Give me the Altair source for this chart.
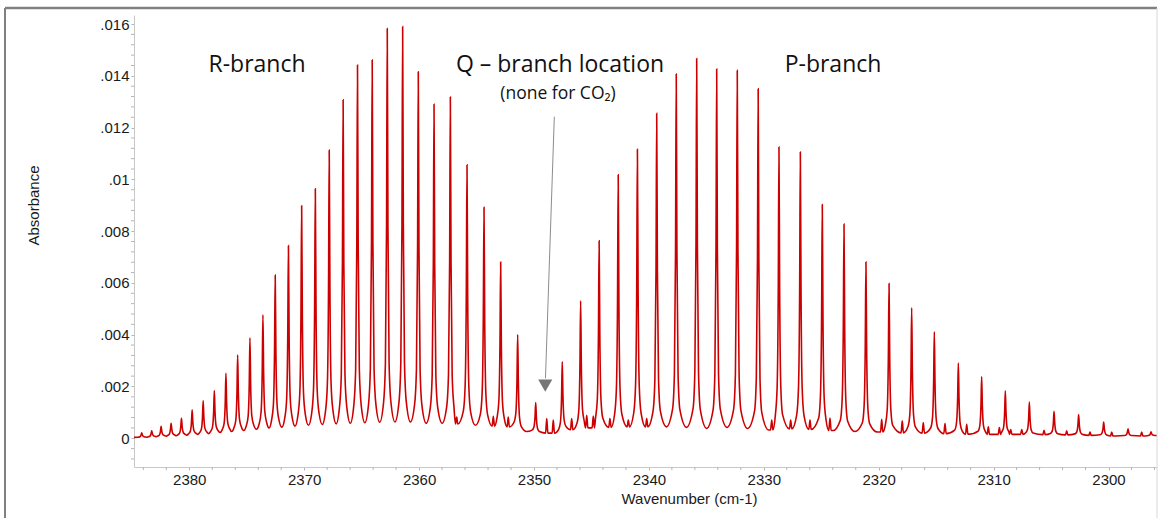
import altair as alt
import pandas as pd

# ---- strong rotational lines (high -> low wavenumber) ----
peak_wn = [2384.14, 2383.27, 2382.45, 2381.58, 2380.68, 2379.75, 2378.79, 2377.82, 2376.81, 2375.79,
           2374.72, 2373.59, 2372.52, 2371.37, 2370.22, 2369.03, 2367.82, 2366.61, 2365.36, 2364.08,
           2362.77, 2361.43, 2360.07, 2358.70, 2357.28, 2355.83, 2354.35, 2352.90, 2351.42, 2349.85,
           2347.54, 2345.94, 2344.33, 2342.67, 2341.00, 2339.32, 2337.62, 2335.84, 2334.10, 2332.31,
           2330.49, 2328.68, 2326.82, 2324.91, 2323.02, 2321.11, 2319.10, 2317.13, 2315.16, 2313.07,
           2311.04, 2308.98, 2306.89, 2304.74, 2302.60, 2300.42, 2298.30, 2296.30]
peak_abs = [0.00021, 0.00029, 0.00046, 0.00058, 0.00077, 0.0011, 0.00146, 0.00184, 0.00251, 0.00321,
            0.00388, 0.00477, 0.0063, 0.00744, 0.00898, 0.00964, 0.01113, 0.01307, 0.01442, 0.01461,
            0.01583, 0.0159, 0.01416, 0.0129, 0.01318, 0.01056, 0.00892, 0.00681, 0.00401, 0.00138,
            0.00295, 0.00531, 0.00763, 0.01018, 0.01116, 0.01255, 0.01407, 0.01467, 0.01426, 0.01421,
            0.0135, 0.01125, 0.01106, 0.00903, 0.00827, 0.00681, 0.00598, 0.00504, 0.00411, 0.00291,
            0.00237, 0.00183, 0.0014, 0.00104, 0.00092, 0.00063, 0.00037, 0.00025]
# absorbance at the minima: before the first line, between each pair, after the last line
valley_abs = [0.00003,
              0.00004, 0.00006, 0.00008, 0.0001, 0.00012, 0.00015, 0.00018, 0.00022, 0.00026, 0.0003,
              0.00035, 0.0004, 0.00043, 0.00047, 0.0005, 0.00053, 0.00056, 0.00058, 0.0006, 0.00062,
              0.00063, 0.00063, 0.00058, 0.00058, 0.00055, 0.0005, 0.00047, 0.00044, 0.00026,
              0.0002,
              0.00033, 0.0004, 0.00042, 0.00044, 0.00044, 0.00044, 0.00042, 0.00038, 0.00042, 0.00038,
              0.00032, 0.00036, 0.00034, 0.0003, 0.00026, 0.00024, 0.00021, 0.0002, 0.00018, 0.00016,
              0.00015, 0.00015, 0.00014, 0.00013, 0.00011, 0.00009, 0.00009,
              0.0001]
# weak (hot-band) lines between the strong ones
weak_wn = [2356.73, 2353.54, 2352.24, 2348.89, 2348.32, 2346.72, 2345.41, 2344.84, 2343.39, 2341.79,
           2340.19, 2329.31, 2327.66, 2325.98, 2324.24, 2319.74, 2317.95, 2316.12, 2314.23, 2312.34,
           2310.46, 2309.50, 2308.51, 2307.55, 2305.61, 2303.64, 2301.61, 2299.72, 2297.11]
weak_abs = [0.00082, 0.00085, 0.00082, 0.00076, 0.0007, 0.00076, 0.00089, 0.00086, 0.00076, 0.0007,
            0.00076, 0.0007, 0.0007, 0.0007, 0.00078, 0.00073, 0.00067, 0.00061, 0.00057, 0.00054,
            0.00044, 0.00041, 0.00034, 0.00034, 0.00031, 0.00029, 0.00024, 0.00024, 0.00024]

# axis ticks
x_major = [2380, 2370, 2360, 2350, 2340, 2330, 2320, 2310, 2300]
x_minor = [v for v in range(2296, 2386, 2) if v % 10 != 0]
y_major = [0, 0.002, 0.004, 0.006, 0.008, 0.01, 0.012, 0.014, 0.016]
y_labels = ["0", ".002", ".004", ".006", ".008", ".01", ".012", ".014", ".016"]
y_minor = [round(k * 0.0004, 4) for k in range(-2, 41) if k % 5 != 0]

X_DOMAIN = [2295.78, 2384.81]
Y_DOMAIN = [-0.00111, 0.01635]

# ---- build the drawn trace from the line list ----
shape = [(0.32, 0.05), (0.16, 0.15), (0.06, 0.5)]
pts = []
n = len(peak_wn)
pts.append((X_DOMAIN[1] + 0.5, valley_abs[0]))
pts.append((X_DOMAIN[0] - 0.5, valley_abs[-1]))
for i in range(n):
    w, h = peak_wn[i], peak_abs[i]
    bl, br = valley_abs[i], valley_abs[i + 1]
    pts.append((w, h))
    for d, f in shape:
        pts.append((w + d, bl + f * (h - bl)))
        pts.append((w - d, br + f * (h - br)))
for i in range(n - 1):
    hi, lo = peak_wn[i], peak_wn[i + 1]
    v = valley_abs[i + 1]
    mid = (hi + lo) / 2
    inside = [(ww, aa) for ww, aa in zip(weak_wn, weak_abs) if lo < ww < hi]
    if not any(abs(ww - mid) < 0.25 for ww, _ in inside):
        pts.append((mid, v))
    for ww, aa in inside:
        pts.append((ww, aa))
        pts.append((ww + 0.1, v))
        pts.append((ww - 0.1, v))
spec = pd.DataFrame(pts, columns=["wn", "absorbance"]).sort_values("wn")

FONT_AX = "Liberation Sans"
FONT_TXT = "Open Sans"
TICK_COL = "#b4b4b4"

xscale = alt.Scale(domain=X_DOMAIN, reverse=True, nice=False, zero=False)
yscale = alt.Scale(domain=Y_DOMAIN, nice=False, zero=False)

y_label_expr = " : ".join(
    f"datum.value == {v} ? '{s}'" for v, s in zip(y_major, y_labels)) + " : ''"

x_enc = alt.X("wn:Q", scale=xscale,
              axis=alt.Axis(values=x_major, format="d",
                            tickSize=3, tickColor=TICK_COL, domainColor="#c8c8c8",
                            labelFont=FONT_AX, labelFontSize=15, labelColor="#1a1a1a",
                            labelPadding=2, labelOverlap=False, labelFlush=False, grid=False,
                            title="Wavenumber (cm-1)", titleFont=FONT_AX, titleFontSize=15,
                            titleFontWeight="normal", titleColor="#1a1a1a",
                            titleX=555, titleY=31, titleBaseline="middle", titleAlign="center"))
y_enc = alt.Y("absorbance:Q", scale=yscale,
              axis=alt.Axis(values=y_major, labelExpr=y_label_expr,
                            tickSize=3, tickColor=TICK_COL, domainColor="#c8c8c8",
                            labelFont=FONT_AX, labelFontSize=15, labelColor="#1a1a1a",
                            labelPadding=2, labelOverlap=False, labelFlush=False, grid=False,
                            title="Absorbance", titleFont=FONT_AX, titleFontSize=15,
                            titleFontWeight="normal", titleColor="#1a1a1a",
                            titleX=-101, titleY=190, titleAngle=-90,
                            titleBaseline="middle", titleAlign="center"))

line = alt.Chart(spec).mark_line(color="#cc0000", strokeWidth=1.6,
                                 interpolate="monotone", clip=True).encode(x=x_enc, y=y_enc)

minor_x = alt.Chart(pd.DataFrame({"wn": x_minor})).mark_rule(
    color=TICK_COL, strokeWidth=1).encode(
    x=alt.X("wn:Q", scale=xscale), y=alt.value(452), y2=alt.value(455))
minor_y = alt.Chart(pd.DataFrame({"absorbance": y_minor})).mark_rule(
    color=TICK_COL, strokeWidth=1).encode(
    y=alt.Y("absorbance:Q", scale=yscale), x=alt.value(-3), x2=alt.value(0))

one = pd.DataFrame({"k": [0]})
arrow = alt.Chart(one).mark_rule(color="#8c8c8c", strokeWidth=1).encode(
    x=alt.datum(2348.23), y=alt.datum(0.01242), x2=alt.datum(2349.0), y2=alt.datum(0.00232))
head = alt.Chart(one).mark_point(shape="triangle-down", filled=True, color="#767676",
                                 size=200, opacity=1).encode(
    x=alt.datum(2349.02), y=alt.datum(0.00203))

def label(txt, x, y, size):
    return alt.Chart(one).mark_text(text=txt, font=FONT_TXT, fontSize=size, color="#111111",
                                    align="center", baseline="alphabetic").encode(
        x=alt.value(x), y=alt.value(y))

texts = [
    label("R-branch", 123, 57, 23),
    label("Q \u2013 branch location", 426, 57, 23),
    label("(none for CO\u2082)", 424, 84, 17.5),
    label("P-branch", 699, 57, 23),
]

def frame(x1, x2, y1, y2, col, w):
    return alt.Chart(one).mark_rule(color=col, strokeWidth=w).encode(
        x=alt.value(x1), x2=alt.value(x2), y=alt.value(y1), y2=alt.value(y2))

frames = [
    frame(-129, 1023, -7, -7, "#808080", 2.5),
    frame(-129, -129, -7, 510, "#808080", 2),
    frame(1023, 1023, -7, 510, "#d8d8d8", 1),
]

chart = alt.layer(line, minor_x, minor_y, arrow, head, *texts, *frames).properties(
    width=1023, height=452,
    autosize=alt.AutoSizeParams(type="none"),
    padding={"left": 134, "top": 15, "right": 1, "bottom": 51},
    background="white",
).configure_view(stroke=None)

chart.save("out.html", embed_options={"renderer": "svg", "actions": False})
